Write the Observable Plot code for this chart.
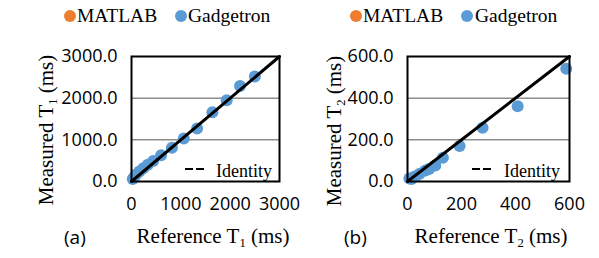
<!DOCTYPE html>
<html>
<head>
<meta charset="utf-8">
<script src="https://cdn.jsdelivr.net/npm/d3@7"></script>
<script src="https://cdn.jsdelivr.net/npm/@observablehq/plot@0.6"></script>
<style>
  html, body { margin: 0; padding: 0; background: #fff; }
  #wrap { position: relative; width: 599px; height: 258px; overflow: hidden; }
  .abs { position: absolute; white-space: nowrap; color: #000; }
  .serif { font-family: "Liberation Serif", "Times New Roman", serif; }
  .sans { font-family: "Open Sans", "Liberation Sans", sans-serif; }
  .sub { font-size: 60%; position: relative; top: 0.3em; }
  .dot { position: absolute; width: 12px; height: 12px; border-radius: 50%; }
  .dash { position: absolute; height: 2px; background: #000; }
</style>
</head>
<body>
<div id="wrap"></div>
<script>
// ---- data ----
const seriesNames = ["MATLAB", "Gadgetron"];
const seriesColors = ["#ED7D31", "#5B9BD5"];

const t1Reference = [25, 55, 95, 160, 240, 330, 440, 600, 820, 1060, 1330, 1640, 1930, 2200, 2500];
const t1Measured  = [60, 110, 170, 240, 320, 400, 490, 630, 810, 1030, 1270, 1660, 1950, 2290, 2520];

const t2Reference = [7, 15, 22, 30, 45, 66, 80, 103, 131, 193, 278, 408, 588];
const t2Measured  = [14, 12, 20, 25, 37, 53, 60, 77, 114, 170, 258, 361, 541];

const t1Ticks = [0, 1000, 2000, 3000];
const t1Grid = [1000, 2000];
const t2Ticks = [0, 200, 400, 600];
const t2Grid = [200, 400];
const identityT1 = [0, 3000];
const identityT2 = [0, 600];

// ---- build ----
const wrap = document.getElementById("wrap");

function panel(ref, meas, ticks, grid, ident, opts) {
  const pts = ref.map((r, i) => ({x: r, y: meas[i]}));
  const idl = ident.map(v => ({x: v, y: v}));
  const chart = Plot.plot({
    width: opts.width,
    height: 258,
    marginLeft: opts.ml,
    marginRight: opts.mr,
    marginTop: 56,
    marginBottom: 77,
    x: {domain: [ticks[0], ticks[ticks.length - 1]]},
    y: {domain: [ticks[0], ticks[ticks.length - 1]]},
    style: {fontFamily: '"Open Sans", sans-serif', fontSize: "18px", color: "#000", background: "transparent", overflow: "visible"},
    marks: [
      Plot.gridY(grid, {stroke: "#555", strokeOpacity: 1, strokeWidth: 1}),
      Plot.dot(pts, {x: "x", y: "y", r: 6, fill: seriesColors[1], stroke: "none"}),
      Plot.line(idl, {x: "x", y: "y", stroke: "#000", strokeWidth: 3}),
      Plot.frame({stroke: "#000", strokeWidth: 2}),
      Plot.axisX({ticks: ticks, tickSize: 0, tickPadding: 16, tickFormat: d => String(d), label: null, fontSize: 18}),
      Plot.axisY({ticks: ticks, tickSize: 0, tickPadding: 14, tickFormat: d3.format(".1f"), label: null, fontSize: 18})
    ]
  });
  chart.style.position = "absolute";
  chart.style.left = opts.left + "px";
  chart.style.top = "0px";
  wrap.appendChild(chart);
}

panel(t1Reference, t1Measured, t1Ticks, t1Grid, identityT1, {width: 300, left: 0, ml: 131, mr: 21});
panel(t2Reference, t2Measured, t2Ticks, t2Grid, identityT2, {width: 299, left: 300, ml: 107, mr: 30});

function add(html, cls, style) {
  const d = document.createElement("div");
  d.className = "abs " + cls;
  d.innerHTML = html;
  Object.assign(d.style, style);
  wrap.appendChild(d);
  return d;
}
function dot(cx, cy, color) {
  const d = document.createElement("div");
  d.className = "dot";
  d.style.left = (cx - 6) + "px";
  d.style.top = (cy - 6) + "px";
  d.style.background = color;
  wrap.appendChild(d);
}
function dash(x, y, w) {
  const d = document.createElement("div");
  d.className = "dash";
  d.style.left = x + "px";
  d.style.top = y + "px";
  d.style.width = w + "px";
  wrap.appendChild(d);
}

// legends
const legendPanels = [
  {dots: [70, 181], texts: [77, 188]},
  {dots: [356, 467], texts: [363, 475]}
];
legendPanels.forEach(p => {
  seriesNames.forEach((name, i) => {
    dot(p.dots[i], 16, seriesColors[i]);
    add(name, "serif", {left: p.texts[i] + "px", top: "4px", fontSize: "19.5px", lineHeight: "24px"});
  });
});

// identity legends (two short dashes)
dash(185, 168, 8); dash(196, 168, 8);
add("Identity", "serif", {left: "216px", top: "160px", fontSize: "18px", lineHeight: "22px"});
dash(472, 168, 8); dash(483, 168, 8);
add("Identity", "serif", {left: "504px", top: "160px", fontSize: "18px", lineHeight: "22px"});

// axis titles
add('Reference T<span class="sub">1</span> (ms)', "serif", {left: "213px", top: "224px", fontSize: "21px", lineHeight: "24px", transform: "translateX(-50%)"});
add('Reference T<span class="sub">2</span> (ms)', "serif", {left: "491px", top: "224px", fontSize: "21px", lineHeight: "24px", transform: "translateX(-50%)"});
add('Measured T<span class="sub">1</span> (ms)', "serif", {left: "47px", top: "130px", fontSize: "21px", lineHeight: "24px", transform: "translate(-50%,-50%) rotate(-90deg)"});
add('Measured T<span class="sub">2</span> (ms)', "serif", {left: "335px", top: "131px", fontSize: "21px", lineHeight: "24px", transform: "translate(-50%,-50%) rotate(-90deg)"});

// panel letters
add("(a)", "sans", {left: "64px", top: "225px", fontSize: "19px", lineHeight: "24px"});
add("(b)", "sans", {left: "344px", top: "225px", fontSize: "19px", lineHeight: "24px"});
</script>
</body>
</html>
